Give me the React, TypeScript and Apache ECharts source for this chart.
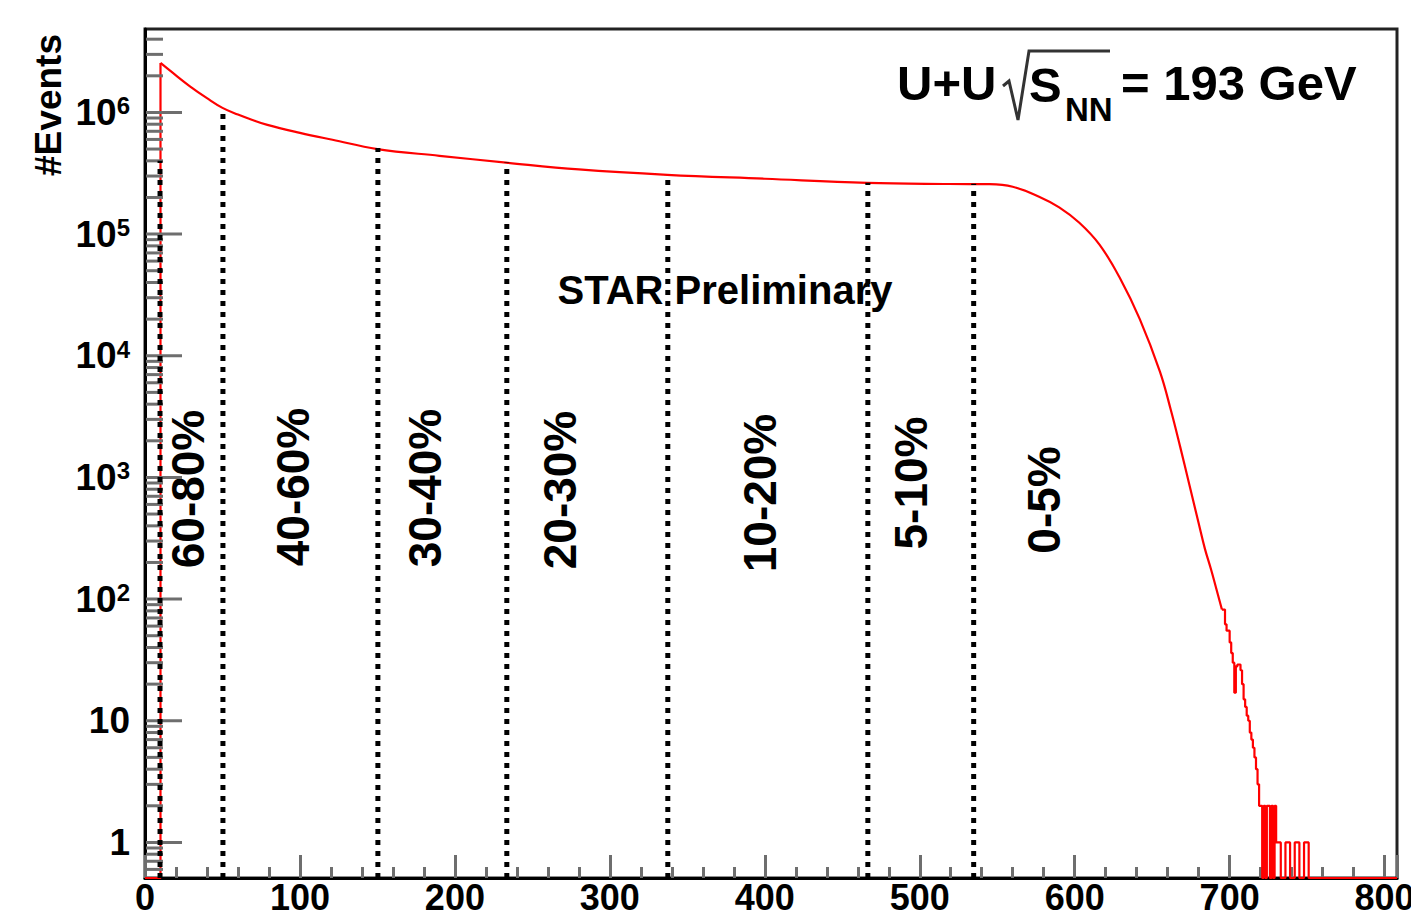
import React, { useEffect, useRef } from 'react';
import * as echarts from 'echarts';

const X_MIN = 0;
const X_MAX = 808;
const Y_MIN = 0.51;
const Y_MAX = 4.85e6;

// leading empty bins and the rising edge
const headX = [0, 10, 10];
const headY = [0, 0, 2.55e6];

// smooth body of the distribution (x, #events)
const curveX = [10, 18, 29, 40, 50, 60, 68, 79, 100, 121, 150, 190, 233, 280, 337, 400, 466, 519, 545, 560, 577, 590, 603, 616, 629, 642, 655, 662, 668, 674, 680, 684, 688, 691, 695];
const curveY = [2.55e6, 2.11e6, 1.64e6, 1.31e6, 1.09e6, 9.6e5, 8.8e5, 7.9e5, 6.8e5, 5.96e5, 5.0e5, 4.4e5, 3.87e5, 3.4e5, 3.07e5, 2.85e5, 2.64e5, 2.58e5, 2.57e5, 2.45e5, 2.03e5, 1.66e5, 1.24e5, 8.2e4, 4.4e4, 2.0e4, 7.4e3, 3.6e3, 1.8e3, 870, 420, 260, 175, 127, 82];

// binned tail (bin low edges, counts)
const tailEdges = [695, 697, 698, 700, 701, 702, 703, 704, 705, 707, 708, 709, 710, 711, 712, 713, 714, 715, 716, 717, 718, 719, 720, 721, 722, 723, 724, 725, 726, 727, 728, 729, 730, 733, 736, 739, 742, 745, 748, 751, 808];
const tailCounts = [82, 62, 55, 44, 36, 30, 17, 28, 29, 26, 20, 15, 13, 11, 10, 8, 7, 6, 5, 4, 3, 2, 2, 0, 2, 0, 2, 2, 0, 2, 0, 2, 1, 0, 1, 0, 1, 0, 1, 0, 0];

// centrality cuts
const cutX = [9.7, 50.3, 150.3, 233.5, 337.4, 466.5, 534.8];
const cutTop = [4.0e5, 1.09e6, 5.1e5, 3.87e5, 3.07e5, 2.64e5, 2.59e5];
const classLabels = ['60-80%', '40-60%', '30-40%', '20-30%', '10-20%', '5-10%', '0-5%'];

const yMajorTicks = [1, 10, 100, 1000, 1e4, 1e5, 1e6];
const yMantissas = [2, 3, 4, 5, 6, 7, 8, 9];
const yExponents = [-1, 0, 1, 2, 3, 4, 5, 6];

// layout (pixels)
const classLabelPos = [[188, 489], [293, 487], [425, 488], [560, 490], [760, 493], [911, 483], [1044, 500]];

const FONT = '"Liberation Sans", Arial, Helvetica, sans-serif';

export default function App() {
  const ref = useRef<HTMLDivElement>(null);

  useEffect(() => {
    if (!ref.current) return;
    const chart = echarts.init(ref.current, undefined, { renderer: 'svg' });
    const clampY = (v: number) => Math.max(v, Y_MIN);

    const yMinor: number[] = [];
    yExponents.forEach((e) => {
      yMantissas.forEach((m) => {
        const v = m * Math.pow(10, e);
        if (v > Y_MIN && v < Y_MAX) yMinor.push(v);
      });
    });
    const tickData = yMajorTicks.map((v) => [X_MIN, v, 1]).concat(yMinor.map((v) => [X_MIN, v, 0]));

    const red = '#ff0000';
    const histStyle = { color: red, width: 2.2 };

    const cutSeries = cutX.map((x, i) => ({
      type: 'line',
      data: [[x, Y_MIN], [x, cutTop[i]]],
      showSymbol: false,
      symbol: 'none',
      lineStyle: { color: '#000', width: 5, type: [5, 6], cap: 'butt' },
      z: 6,
      silent: true,
    }));

    const option: any = {
      animation: false,
      backgroundColor: '#fff',
      grid: {
        left: 145,
        right: 14,
        top: 29,
        bottom: 37,
        show: true,
        borderColor: '#222',
        borderWidth: 3,
        containLabel: false,
        outerBoundsMode: 'none',
      },
      xAxis: {
        type: 'value',
        min: X_MIN,
        max: X_MAX,
        interval: 100,
        axisLine: { show: true, onZero: false, lineStyle: { color: '#000', width: 3 } },
        axisTick: { show: true, inside: true, length: 23, lineStyle: { color: '#6e6e6e', width: 3 } },
        minorTick: { show: true, splitNumber: 5, length: 11, lineStyle: { color: '#6e6e6e', width: 3 } },
        splitLine: { show: false },
        minorSplitLine: { show: false },
        axisLabel: {
          formatter: (v: number) => (Math.abs(v % 100) < 1e-6 ? String(v) : ''),
          fontSize: 36,
          fontWeight: 'bold',
          fontFamily: FONT,
          color: '#000',
          margin: 1,
          hideOverlap: false,
        },
      },
      yAxis: {
        type: 'log',
        logBase: 10,
        min: Y_MIN,
        max: Y_MAX,
        axisLine: { show: true, onZero: false, lineStyle: { color: '#000', width: 3 } },
        axisTick: { show: false },
        splitLine: { show: false },
        axisLabel: {
          margin: 15,
          fontSize: 37,
          fontWeight: 'bold',
          fontFamily: FONT,
          color: '#000',
          hideOverlap: false,
          formatter: (v: number) => {
            const e = Math.round(Math.log10(v));
            const p = Math.pow(10, e);
            if (Math.abs(v - p) / p > 1e-6) return '';
            if (e === 0) return '1';
            if (e === 1) return '10';
            return '{b|10}{s|' + e + '}';
          },
          rich: {
            b: { fontSize: 37, fontWeight: 'bold', fontFamily: FONT, color: '#000', lineHeight: 37 },
            s: { fontSize: 24, fontWeight: 'bold', fontFamily: FONT, color: '#000', lineHeight: 24, verticalAlign: 'top' },
          },
        },
      },
      series: [
        {
          type: 'line',
          data: headX.map((x, i) => [x, clampY(headY[i])]),
          showSymbol: false,
          symbol: 'none',
          lineStyle: histStyle,
          z: 3,
          silent: true,
        },
        {
          type: 'line',
          data: curveX.map((x, i) => [x, clampY(curveY[i])]),
          showSymbol: false,
          symbol: 'none',
          smooth: 0.4,
          lineStyle: histStyle,
          z: 3,
          silent: true,
        },
        {
          type: 'line',
          step: 'end',
          data: tailEdges.map((x, i) => [x, clampY(tailCounts[i])]),
          showSymbol: false,
          symbol: 'none',
          lineStyle: histStyle,
          z: 3,
          silent: true,
        },
        ...cutSeries,
        {
          type: 'custom',
          data: tickData,
          silent: true,
          clip: false,
          z: 4,
          renderItem: (params: any, api: any) => {
            const p = api.coord([api.value(0), api.value(1)]);
            const len = api.value(2) ? 37 : 18;
            return {
              type: 'line',
              shape: { x1: p[0] + 1, y1: p[1], x2: p[0] + len, y2: p[1] },
              style: { stroke: '#6e6e6e', lineWidth: 3 },
            };
          },
        },
      ],
      graphic: [
        {
          type: 'text',
          x: 48,
          y: 105,
          rotation: Math.PI / 2,
          style: { text: '#Events', fontSize: 37, fontWeight: 'bold', fontFamily: FONT, fill: '#000', align: 'center', verticalAlign: 'middle' },
        },
        {
          type: 'text',
          x: 897,
          y: 83,
          style: { text: 'U+U', fontSize: 49, fontWeight: 'bold', fontFamily: FONT, fill: '#000', align: 'left', verticalAlign: 'middle' },
        },
        {
          type: 'polyline',
          shape: { points: [[1003, 86], [1009, 81], [1018, 120], [1029, 51], [1110, 51]] },
          style: { stroke: '#333', lineWidth: 3, fill: null },
        },
        {
          type: 'text',
          x: 1029,
          y: 85,
          style: { text: 'S', fontSize: 49, fontWeight: 'bold', fontFamily: FONT, fill: '#000', align: 'left', verticalAlign: 'middle' },
        },
        {
          type: 'text',
          x: 1065,
          y: 109,
          style: { text: 'NN', fontSize: 33, fontWeight: 'bold', fontFamily: FONT, fill: '#000', align: 'left', verticalAlign: 'middle' },
        },
        {
          type: 'text',
          x: 1121,
          y: 83,
          style: { text: '= 193 GeV', fontSize: 49, fontWeight: 'bold', fontFamily: FONT, fill: '#000', align: 'left', verticalAlign: 'middle' },
        },
        {
          type: 'text',
          x: 725,
          y: 290,
          style: { text: 'STAR Preliminary', fontSize: 40, fontWeight: 'bold', fontFamily: FONT, fill: '#000', align: 'center', verticalAlign: 'middle' },
        },
        ...classLabels.map((t, i) => ({
          type: 'text',
          x: classLabelPos[i][0],
          y: classLabelPos[i][1],
          rotation: Math.PI / 2,
          style: { text: t, fontSize: 46, fontWeight: 'bold', fontFamily: FONT, fill: '#000', align: 'center', verticalAlign: 'middle' },
        })),
      ],
    };

    chart.setOption(option);
    return () => chart.dispose();
  }, []);

  return (
    <div
      ref={ref}
      style={{ position: 'absolute', left: 0, top: 0, width: 1411, height: 915, background: '#fff' }}
    />
  );
}
